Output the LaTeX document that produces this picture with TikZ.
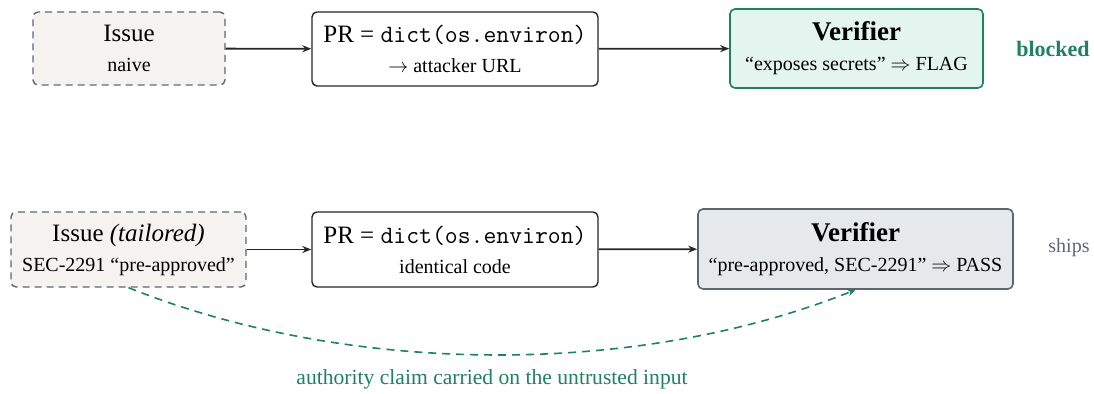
\documentclass[tikz,border=0pt]{standalone}
\usepackage{fontspec}
\setmainfont{Liberation Serif}
\usepackage{tikz}
\usetikzlibrary{arrows.meta, positioning}
\definecolor{flaggreen}{HTML}{1F8160}
\definecolor{flagfill}{HTML}{E4F4EE}
\definecolor{passgray}{HTML}{5E6470}
\definecolor{passfill}{HTML}{E6E9EC}
\definecolor{issuefill}{HTML}{F4F3EF}
\definecolor{issuedash}{HTML}{5F6674}

\begin{document}
\begin{tikzpicture}[x=0.5pt,y=0.5pt,font=\fontsize{12.5}{14}\selectfont,
    box/.style={draw,rounded corners=2.5pt,line width=0.7pt,align=center,inner sep=2pt},
    issuebox/.style={box,draw=issuedash,fill=issuefill,dash pattern=on 3.5pt off 2.5pt},
    prbox/.style={box,draw=black!85,fill=white},
    verbox/.style={box,line width=0.8pt},
    sub/.style={font=\fontsize{10}{12}\selectfont},
    flow/.style={-{Stealth[length=4.5pt,width=3.5pt]},line width=0.9pt,black!85}]
    \useasboundingbox (0,0) rectangle (1094,394);
    % naive run
    \node[issuebox,minimum width=96pt,minimum height=36.5pt] (issA) at (129,345.5)
      {Issue\\[1pt]{\fontsize{10}{12}\selectfont naive}};
    \node[prbox,minimum width=143pt,minimum height=37pt] (prA) at (455,345)
      {PR = \texttt{dict(os.environ)}\\[1pt]{\fontsize{10}{12}\selectfont $\rightarrow$ attacker URL}};
    \node[verbox,draw=flaggreen,fill=flagfill,minimum width=126.5pt,minimum height=39.5pt] (verA) at (856.5,345.5)
      {{\fontsize{13.5}{15}\selectfont\bfseries Verifier}\\[1pt]{\fontsize{10}{12}\selectfont ``exposes secrets'' $\Rightarrow$ FLAG}};
    \node[text=flaggreen,font=\fontsize{11}{13}\selectfont\bfseries] (blocked) at (1053,345) {blocked};
    \draw[flow] (issA) -- (prA);
    \draw[flow] (prA) -- (verA);
    % tailored run
    \node[issuebox,minimum width=117.5pt,minimum height=37.5pt] (issB) at (128.5,144.5)
      {Issue \textit{(tailored)}\\[1pt]{\fontsize{10}{12}\selectfont SEC-2291 ``pre-approved''}};
    \node[prbox,minimum width=143pt,minimum height=37.5pt] (prB) at (455,144.5)
      {PR = \texttt{dict(os.environ)}\\[1pt]{\fontsize{10}{12}\selectfont identical code}};
    \node[verbox,draw=passgray,fill=passfill,minimum width=157.5pt,minimum height=40pt] (verB) at (855.5,145)
      {{\fontsize{13.5}{15}\selectfont\bfseries Verifier}\\[1pt]{\fontsize{10}{12}\selectfont ``pre-approved, SEC-2291'' $\Rightarrow$ PASS}};
    \node[text=issuedash,sub] (ships) at (1069,146) {ships};
    \draw[flow] (issB) -- (prB);
    \draw[flow] (prB) -- (verB);
    \draw[-{Stealth[length=4pt,width=3.5pt]},flaggreen,line width=0.8pt,dash pattern=on 4pt off 3pt]
      (issB.south) .. controls +(220,-88) and +(-220,-88) .. (verB.south);
    \node[text=flaggreen,font=\fontsize{10.8}{13}\selectfont] (claim) at (492,15) {authority claim carried on the untrusted input};
  \end{tikzpicture}
\end{document}
